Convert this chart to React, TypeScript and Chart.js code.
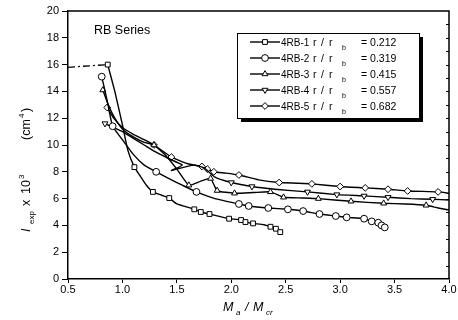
import React, { useEffect, useRef } from "react";
import { Chart, registerables } from "chart.js";

Chart.register(...registerables);

// ---------- data ----------
const seriesNames = ["4RB-1", "4RB-2", "4RB-3", "4RB-4", "4RB-5"];
const ratioLabels = ["0.212", "0.319", "0.415", "0.557", "0.682"];

const rb1X = [0.865, 0.93, 1.0, 1.05, 1.11, 1.17, 1.22, 1.28, 1.36, 1.43, 1.5, 1.58, 1.66, 1.72, 1.8, 1.9, 1.98, 2.05, 2.09, 2.13, 2.2, 2.3, 2.36, 2.41, 2.45];
const rb1Y = [16.0, 14.0, 11.5, 9.6, 8.35, 7.6, 7.0, 6.5, 6.25, 6.04, 5.6, 5.4, 5.2, 5.0, 4.85, 4.65, 4.5, 4.45, 4.4, 4.25, 4.15, 4.05, 3.9, 3.75, 3.5];
const rb1Marks = [0, 4, 7, 9, 12, 13, 14, 16, 18, 19, 20, 22, 23, 24];

const rb2X = [0.81, 0.86, 0.91, 1.0, 1.1, 1.2, 1.31, 1.45, 1.55, 1.68, 1.85, 2.07, 2.16, 2.34, 2.52, 2.66, 2.81, 2.96, 3.06, 3.22, 3.29, 3.35, 3.38, 3.41, 3.43];
const rb2Y = [15.1, 13.3, 11.4, 10.4, 9.3, 8.5, 8.0, 7.4, 7.0, 6.5, 6.0, 5.6, 5.45, 5.3, 5.2, 5.07, 4.85, 4.7, 4.6, 4.5, 4.3, 4.2, 4.0, 3.85, 3.75];
const rb2Marks = [0, 2, 6, 9, 11, 12, 13, 14, 15, 16, 17, 18, 19, 20, 21, 22, 23];

const rb3X = [0.82, 0.87, 0.93, 1.0, 1.1, 1.2, 1.29, 1.4, 1.5, 1.61, 1.72, 1.81, 1.87, 2.03, 2.2, 2.36, 2.48, 2.65, 2.8, 3.1, 3.4, 3.6, 3.79, 3.9, 4.0];
const rb3Y = [14.1, 13.0, 12.0, 11.2, 10.6, 10.2, 10.0, 9.2, 8.2, 7.0, 7.3, 7.5, 6.6, 6.4, 6.45, 6.5, 6.1, 6.05, 6.0, 5.8, 5.65, 5.6, 5.5, 5.3, 5.15];
const rb3Marks = [0, 6, 9, 11, 12, 13, 15, 16, 18, 19, 20, 22];

const rb4X = [0.84, 0.92, 1.0, 1.1, 1.2, 1.3, 1.42, 1.55, 1.45, 1.65, 1.75, 1.85, 2.0, 2.19, 2.4, 2.7, 2.97, 3.22, 3.44, 3.65, 3.85, 4.0];
const rb4Y = [11.6, 11.3, 11.0, 10.5, 10.0, 9.5, 9.0, 8.5, 8.1, 8.5, 8.3, 7.6, 7.2, 6.9, 6.7, 6.5, 6.3, 6.2, 6.1, 6.0, 5.95, 5.9];
const rb4Marks = [0, 12, 13, 15, 16, 17, 18, 20];

const rb5X = [0.86, 0.92, 1.0, 1.1, 1.2, 1.29, 1.45, 1.6, 1.73, 1.78, 1.84, 1.95, 2.07, 2.25, 2.44, 2.6, 2.74, 3.0, 3.23, 3.44, 3.62, 3.9, 4.0];
const rb5Y = [12.8, 12.0, 11.3, 10.8, 10.4, 10.0, 9.1, 8.6, 8.4, 8.2, 8.0, 7.9, 7.76, 7.4, 7.2, 7.15, 7.1, 6.9, 6.8, 6.7, 6.57, 6.5, 6.4];
const rb5Marks = [0, 5, 6, 8, 9, 10, 12, 14, 16, 17, 18, 19, 20, 21];

// dash-dot extension to the y axis
const extX = [0.5, 0.865];
const extY = [15.8, 16.0];

const xMin = 0.5, xMax = 4.0, xStep = 0.5;
const yMin = 0, yMax = 20, yStep = 2;

// ---------- styling ----------
const FONT = "'Liberation Sans', Arial, Helvetica, sans-serif";
const R = 3.4;

type Shape = "rect" | "circle" | "triangle" | "triangleDown" | "rectRot";
const shapes: Shape[] = ["rect", "circle", "triangle", "triangleDown", "rectRot"];

function toPts(xs: number[], ys: number[]) {
  return xs.map((x, i) => ({ x, y: ys[i] }));
}

function drawMarker(ctx: CanvasRenderingContext2D, shape: Shape, x: number, y: number, r: number) {
  ctx.beginPath();
  if (shape === "rect") {
    const s = r * Math.SQRT1_2;
    ctx.rect(x - s, y - s, 2 * s, 2 * s);
  } else if (shape === "circle") {
    ctx.arc(x, y, r, 0, Math.PI * 2);
  } else if (shape === "triangle") {
    ctx.moveTo(x, y - r);
    ctx.lineTo(x + r * 0.866, y + r * 0.5);
    ctx.lineTo(x - r * 0.866, y + r * 0.5);
    ctx.closePath();
  } else if (shape === "triangleDown") {
    ctx.moveTo(x, y + r);
    ctx.lineTo(x + r * 0.866, y - r * 0.5);
    ctx.lineTo(x - r * 0.866, y - r * 0.5);
    ctx.closePath();
  } else {
    ctx.moveTo(x, y - r);
    ctx.lineTo(x + r, y);
    ctx.lineTo(x, y + r);
    ctx.lineTo(x - r, y);
    ctx.closePath();
  }
  ctx.fillStyle = "#fff";
  ctx.fill();
  ctx.lineWidth = 1;
  ctx.strokeStyle = "#000";
  ctx.stroke();
}

const decoPlugin = {
  id: "deco",
  afterDraw(chart: any) {
    const { ctx, chartArea: a, scales } = chart;
    const y = scales.y;
    ctx.save();
    // top and right frame
    ctx.strokeStyle = "#000";
    ctx.lineWidth = 1.5;
    ctx.beginPath();
    ctx.moveTo(a.left, a.top);
    ctx.lineTo(a.right, a.top);
    ctx.lineTo(a.right, a.bottom);
    ctx.stroke();
    // small ticks on right frame
    ctx.lineWidth = 1;
    ctx.beginPath();
    for (let v = yMin + 1; v < yMax; v++) {
      const py = Math.round(y.getPixelForValue(v)) + 0.5;
      ctx.moveTo(a.right, py);
      ctx.lineTo(a.right - 3, py);
    }
    ctx.stroke();

    ctx.fillStyle = "#000";
    ctx.textBaseline = "alphabetic";
    ctx.textAlign = "left";

    // "RB Series"
    ctx.font = `12.5px ${FONT}`;
    ctx.fillText("RB Series", 94, 34);

    // legend box with shadow
    const bx = 237, by = 33, bw = 182, bh = 85;
    ctx.fillStyle = "#000";
    ctx.fillRect(bx + 4, by + 4, bw, bh);
    ctx.fillStyle = "#fff";
    ctx.fillRect(bx, by, bw, bh);
    ctx.strokeStyle = "#000";
    ctx.lineWidth = 1;
    ctx.strokeRect(bx + 0.5, by + 0.5, bw, bh);

    for (let i = 0; i < seriesNames.length; i++) {
      const cy = 42 + i * 16;
      ctx.strokeStyle = "#000";
      ctx.lineWidth = 1.4;
      ctx.beginPath();
      ctx.moveTo(250, cy);
      ctx.lineTo(280, cy);
      ctx.stroke();
      drawMarker(ctx, shapes[i], 265, cy, R);
      ctx.fillStyle = "#000";
      ctx.font = `10px ${FONT}`;
      const base = cy + 4;
      ctx.fillText(seriesNames[i], 281, base);
      ctx.font = `10.5px ${FONT}`;
      ctx.fillText("r", 313, base);
      ctx.fillText("/", 321, base);
      ctx.fillText("r", 329, base);
      ctx.font = `7px ${FONT}`;
      ctx.fillText("b", 342, base + 4);
      ctx.font = `10.5px ${FONT}`;
      ctx.fillText("= " + ratioLabels[i], 361, base);
    }

    // x axis title  M_a / M_cr
    ctx.fillStyle = "#000";
    ctx.font = `italic 12.5px ${FONT}`;
    ctx.fillText("M", 223, 311);
    ctx.font = `italic 8px ${FONT}`;
    ctx.fillText("a", 236, 315);
    ctx.font = `italic 12.5px ${FONT}`;
    ctx.fillText("/", 245, 311);
    ctx.fillText("M", 253, 311);
    ctx.font = `italic 8px ${FONT}`;
    ctx.fillText("cr", 266, 315);

    // y axis title  I_exp x 10^3   (cm^4)
    ctx.save();
    ctx.translate(30, 0);
    ctx.rotate(-Math.PI / 2);
    ctx.font = `italic 12.5px ${FONT}`;
    ctx.fillText("I", -232, 0);
    ctx.font = `8px ${FONT}`;
    ctx.fillText("exp", -224, 4);
    ctx.font = `12.5px ${FONT}`;
    ctx.fillText("x", -206, 0);
    ctx.fillText("10", -194, 0);
    ctx.font = `8px ${FONT}`;
    ctx.fillText("3", -179, -6);
    ctx.font = `12.5px ${FONT}`;
    ctx.fillText("(cm", -140, 0);
    ctx.font = `8px ${FONT}`;
    ctx.fillText("4", -118, -6);
    ctx.font = `12.5px ${FONT}`;
    ctx.fillText(")", -112, 0);
    ctx.restore();

    ctx.restore();
  },
};

function seriesDataset(xs: number[], ys: number[], marks: number[], shapeIdx: number) {
  const shape = shapes[shapeIdx];
  const pointStyle = shape === "triangleDown" ? "triangle" : shape;
  return {
    data: toPts(xs, ys),
    borderColor: "#000",
    borderWidth: 1.4,
    tension: 0.15,
    pointStyle,
    pointRotation: shape === "triangleDown" ? 180 : 0,
    pointRadius: (c: any) => (marks.includes(c.dataIndex) ? R : 0),
    pointBackgroundColor: "#fff",
    pointBorderColor: "#000",
    pointBorderWidth: 1,
    fill: false,
  };
}

export default function App() {
  const ref = useRef<HTMLCanvasElement | null>(null);
  useEffect(() => {
    if (!ref.current) return;
    const chart = new Chart(ref.current, {
      type: "line",
      data: {
        datasets: [
          {
            data: toPts(extX, extY),
            borderColor: "#000",
            borderWidth: 1.3,
            borderDash: [7, 3, 2, 3],
            pointRadius: 0,
            fill: false,
          } as any,
          seriesDataset(rb1X, rb1Y, rb1Marks, 0),
          seriesDataset(rb2X, rb2Y, rb2Marks, 1),
          seriesDataset(rb3X, rb3Y, rb3Marks, 2),
          seriesDataset(rb4X, rb4Y, rb4Marks, 3),
          seriesDataset(rb5X, rb5Y, rb5Marks, 4),
        ],
      },
      options: {
        responsive: false,
        maintainAspectRatio: false,
        animation: false,
        layout: { padding: { top: 11, right: 9, left: 0, bottom: 0 } },
        plugins: { legend: { display: false }, tooltip: { enabled: false } },
        scales: {
          x: {
            type: "linear",
            min: xMin,
            max: xMax,
            ticks: {
              stepSize: xStep,
              color: "#000",
              font: { family: FONT, size: 11 },
              padding: 0,
              maxRotation: 0,
              callback: (v: any) => Number(v).toFixed(1),
            },
            grid: { drawOnChartArea: false, color: "#000", tickLength: 4, lineWidth: 1 },
            border: { color: "#000", width: 1.5 },
            afterFit: (s: any) => {
              s.height = 41;
            },
          },
          y: {
            type: "linear",
            min: yMin,
            max: yMax,
            ticks: {
              stepSize: yStep,
              color: "#000",
              font: { family: FONT, size: 11 },
              padding: 3,
            },
            grid: { drawOnChartArea: false, color: "#000", tickLength: 6, lineWidth: 1 },
            border: { color: "#000", width: 1.5 },
            afterFit: (s: any) => {
              s.width = 68;
            },
          },
        },
      } as any,
      plugins: [decoPlugin],
    });
    return () => chart.destroy();
  }, []);
  return (
    <div style={{ position: "absolute", left: 0, top: 0, width: 458, height: 320, background: "#fff" }}>
      <canvas ref={ref} width={458} height={320} />
    </div>
  );
}
